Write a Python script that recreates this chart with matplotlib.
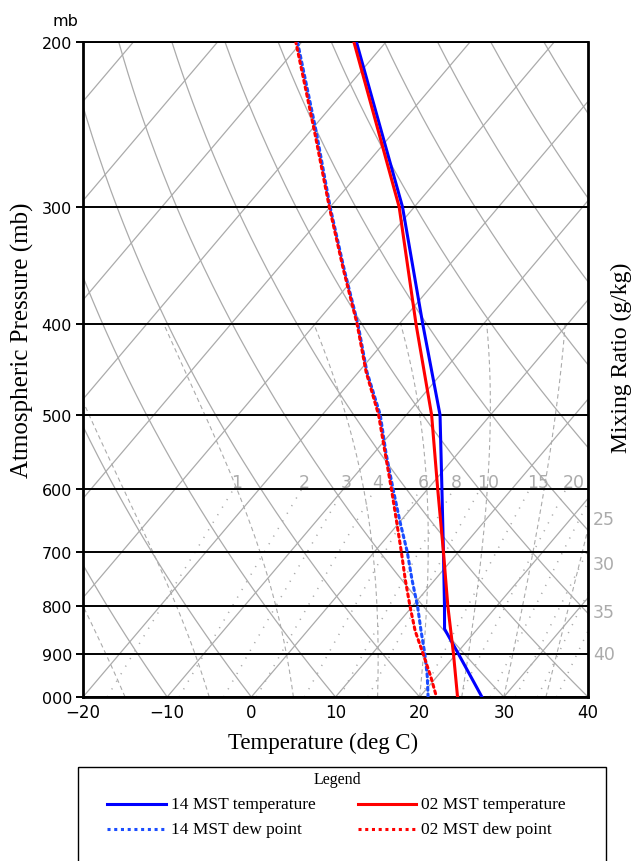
import numpy as np
import matplotlib.pyplot as plt
from matplotlib.patches import Rectangle

# ---------------------------------------------------------------
# sounding values (p in mb, T in deg C)
# ---------------------------------------------------------------
p_t14 = [1000, 900, 846, 800, 700, 600, 500, 400, 300, 200]
t14 = [27.4, 20.3, 16.1, 13.8, 8.2, 1.7, -6.0, -17.2, -31.4, -53.5]

p_t02 = [1000, 900, 800, 700, 600, 500, 400, 300, 200]
t02 = [24.5, 19.7, 14.2, 8.2, 1.2, -7.0, -18.0, -31.8, -53.8]

p_td = [1000, 950, 900, 850, 800, 750, 700, 650, 600, 550, 500, 450, 400, 350, 300, 250, 200]
td14 = [21.0, 18.8, 16.3, 13.5, 10.6, 7.3, 3.9, 0.0, -4.1, -8.5, -13.1, -19.0, -24.9,
        -32.0, -40.0, -49.1, -60.5]
td02 = [22.0, 19.2, 16.1, 12.8, 9.7, 6.5, 3.2, -0.4, -4.3, -8.6, -13.3, -19.1, -25.0,
        -32.1, -40.1, -49.3, -60.7]

# background
isobars = [1000, 900, 800, 700, 600, 500, 400, 300, 200]
isotherms = np.arange(-100, 50, 10)
dry_theta = np.arange(-30, 170, 10)          # theta in deg C
moist_t0 = [-15, -5, 5, 15, 20, 25, 30, 35]  # T at 1000 mb
mixr_top = [1, 2, 3, 4, 6, 8, 10, 15, 20]    # labelled at 600 mb
mixr_side = [25, 30, 35, 40]                 # labelled on right side
side_label_p = [645, 722, 812, 900]

K = 41.0  # skew (deg C per ln p)


def L(p):
    return np.log(1000.0 / np.asarray(p, dtype=float))


def sx(t, p):
    return np.asarray(t, dtype=float) + K * L(p)


def dewpt(w, p):
    e = w * p / (622.0 + w)
    a = np.log(e / 6.112)
    return 243.5 * a / (17.67 - a)


def moist(t0, p):
    T = t0 + 273.15
    out = [T]
    for i in range(1, len(p)):
        es = 6.112 * np.exp(17.67 * (T - 273.15) / (T - 29.65))
        rs = 0.622 * es / (p[i - 1] - es)
        num = 287.04 * T + 2.5e6 * rs
        den = 1005.7 + 2.5e6 ** 2 * rs * 0.622 / (287.04 * T ** 2)
        T = T + (p[i] - p[i - 1]) / p[i - 1] * num / den
        out.append(T)
    return np.array(out) - 273.15


fig = plt.figure(figsize=(6.33, 8.62), dpi=100)
ax = fig.add_axes([83 / 633, 1 - 698 / 862, 505 / 633, 655 / 862])
ax.set_xlim(-20, 40)
ax.set_ylim(0, L(200))

gray = '#ababab'
pp = np.linspace(1000, 200, 200)
for t in isotherms:
    ax.plot(sx(t + 0 * pp, pp), L(pp), color=gray, lw=0.9, zorder=1)
for th in dry_theta:
    tt = (th + 273.15) * (pp / 1000.0) ** 0.2857 - 273.15
    ax.plot(sx(tt, pp), L(pp), color=gray, lw=0.9, zorder=1)

pm = np.linspace(1000, 400, 400)
for t0 in moist_t0:
    ax.plot(sx(moist(t0, pm), pm), L(pm), color=gray, lw=0.8, ls=(0, (4, 3)), zorder=1)

pw = np.linspace(1000, 600, 100)
for w in mixr_top + mixr_side:
    ax.plot(sx(dewpt(w, pw), pw), L(pw), color=gray, lw=1.1, ls=(0, (0.8, 5)), zorder=1)
for w in mixr_top:
    ax.text(sx(dewpt(w, 600), 600) - 0.35, L(590), str(w), color=gray, fontsize=12.5,
            ha='left', va='center', zorder=2)
for w, pl in zip(mixr_side, side_label_p):
    ax.text(40.6, L(pl), str(w), color=gray, fontsize=12.5, ha='left', va='center',
            clip_on=False)

for p in isobars:
    ax.axhline(L(p), color='k', lw=1.4, zorder=3)

# sounding
ax.plot(sx(t14, p_t14), L(p_t14), color='#0000ff', lw=2.2, zorder=5)
ax.plot(sx(t02, p_t02), L(p_t02), color='#ff0000', lw=2.2, zorder=6)
ax.plot(sx(td14, p_td), L(p_td), color='#1a4dff', lw=2.2, ls=(0, (1, 1.2)),
        dash_capstyle='round', zorder=5)
ax.plot(sx(td02, p_td), L(p_td), color='#ff0000', lw=2.2, ls=(1.1, (1, 1.2)),
        dash_capstyle='round', zorder=6)

ax.set_xticks(np.arange(-20, 41, 10))
ax.set_xticklabels(['\u221220', '\u221210', '0', '10', '20', '30', '40'], fontsize=12)
ax.set_yticks(L(isobars))
ax.set_yticklabels([f'{p % 1000:03d}' for p in isobars], fontsize=11.5)
ax.tick_params(axis='y', direction='out', length=5, width=1.4, pad=3)
ax.tick_params(axis='x', direction='out', length=0, pad=4)
for s in ['left', 'bottom', 'right']:
    ax.spines[s].set_linewidth(2.0)
ax.spines['top'].set_linewidth(1.4)

fig.text(323 / 633, 1 - 743 / 862, 'Temperature (deg C)', family='Liberation Serif',
         fontsize=16.5, ha='center', va='center')
fig.text(22 / 633, 1 - 340 / 862, 'Atmospheric Pressure (mb)', family='Liberation Serif',
         fontsize=18, rotation=90, ha='center', va='center')
fig.text(621 / 633, 1 - 358 / 862, 'Mixing Ratio (g/kg)', family='Liberation Serif',
         fontsize=17, rotation=90, ha='center', va='center')
fig.text(65 / 633, 1 - 22 / 862, 'mb', fontsize=11.5, ha='center', va='center')

# legend box
lax = fig.add_axes([0, 0, 1, 1])
lax.set_xlim(0, 633)
lax.set_ylim(862, 0)
lax.axis('off')
lax.add_patch(Rectangle((78, 768), 528, 110, fill=False, ec='k', lw=1.0))
lax.text(337, 780, 'Legend', family='Liberation Serif', fontsize=11.5, ha='center', va='center')
lax.plot([107, 166], [805, 805], color='#0000ff', lw=2.2)
lax.plot([358, 416], [805, 805], color='#ff0000', lw=2.2)
lax.plot([107, 166], [830, 830], color='#1a4dff', lw=2.2, ls=(0, (1, 1.2)))
lax.plot([358, 416], [830, 830], color='#ff0000', lw=2.2, ls=(0, (1, 1.2)))
lax.text(171, 805, '14 MST temperature', family='Liberation Serif', fontsize=12.5, va='center')
lax.text(421, 805, '02 MST temperature', family='Liberation Serif', fontsize=12.5, va='center')
lax.text(171, 830, '14 MST dew point', family='Liberation Serif', fontsize=12.5, va='center')
lax.text(421, 830, '02 MST dew point', family='Liberation Serif', fontsize=12.5, va='center')

fig.savefig('out.png', dpi=100, facecolor='w')
